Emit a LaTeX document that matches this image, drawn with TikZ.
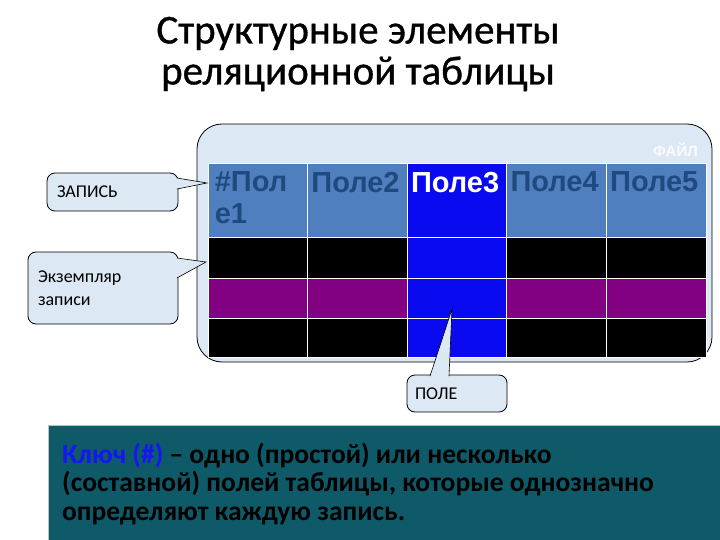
\documentclass[tikz,border=0pt]{standalone}
\usepackage{fontspec}
\setmainfont{Carlito}
\newfontfamily\arialfont{Liberation Sans}
\newfontfamily\titlefont[FakeBold=0.8]{Carlito}
\usetikzlibrary{calc}
\definecolor{callfill}{HTML}{DCE8F4}
\definecolor{hdrblue}{HTML}{4F7FBE}
\definecolor{hdrtext}{HTML}{1F4A80}
\definecolor{colblue}{HTML}{0A0AF0}
\definecolor{rowpurple}{HTML}{820082}
\definecolor{keybg}{HTML}{0E5A68}
\definecolor{keyblue}{HTML}{1515F5}

\begin{document}
\begin{tikzpicture}[x=1pt,y=-1pt,
			callbox/.style={
				rectangle,
				draw=black,
				fill=callfill,
				rounded corners=8pt,
				line width=0.8pt,
				align=left,
				inner sep=0pt,
				font=\fontsize{18}{23}\selectfont,
			},
			pointer/.style={
				fill=callfill,
			},
			pointerline/.style={
				draw=black,
				line width=0.6pt,
				line join=miter,
			},
			cellbox/.style={
				rectangle,
				draw=white,
				line width=0.8pt,
				minimum width=99.6,
				minimum height=#1,
				inner sep=0pt,
			},
			headtext/.style={
				anchor=north west,
				inner sep=0pt,
				text width=95,
				align=left,
				font=\arialfont\bfseries\fontsize{29}{32}\selectfont,
			}]
		\useasboundingbox (0,0) rectangle (720,540);
		\node(title) at (358,54) [align=center,font=\titlefont\fontsize{41}{41}\selectfont] {Структурные элементы\\реляционной таблицы};
		\node(file) at (454.5,243) [draw=black,fill=callfill,rounded corners=25pt,line width=0.8pt,minimum width=515,minimum height=238] {};
		\node(filelabel) at (698,150) [anchor=east,inner sep=0pt,text=white!85!callfill,font=\arialfont\bfseries\fontsize{15}{15}\selectfont] {ФАЙЛ};
		\foreach \c in {1,...,5} {
			\pgfmathsetmacro{\cx}{208+99.6*(\c-1)+49.8}
			\ifnum\c=3 \def\hdfill{colblue}\def\rwfill{colblue}\def\rwfillb{colblue}\else \def\hdfill{hdrblue}\def\rwfill{black}\def\rwfillb{rowpurple}\fi
			\node(head\c) at (\cx,200) [cellbox=74,fill=\hdfill] {};
			\node(rowa\c) at (\cx,257.5) [cellbox=41,fill=\rwfill] {};
			\node(rowb\c) at (\cx,298) [cellbox=40,fill=\rwfillb] {};
			\node(rowc\c) at (\cx,337.5) [cellbox=39,fill=\rwfill] {};
		}
		\node(f1) at ([xshift=7,yshift=-9]head1.north west) [headtext,text=hdrtext] {\#Пол\\е1};
		\node(f2) at ([xshift=4,yshift=-9]head2.north west) [headtext,text=hdrtext] {Поле2};
		\node(f3) at ([xshift=4,yshift=-9]head3.north west) [headtext,text=white] {Поле3};
		\node(f4) at ([xshift=4,yshift=-9]head4.north west) [headtext,text=hdrtext] {Поле4};
		\node(f5) at ([xshift=4,yshift=-9]head5.north west) [headtext,text=hdrtext] {Поле5};
		\node(zapis) at (112.5,192) [callbox,minimum width=131,minimum height=38,text width=111] {ЗАПИСЬ};
		\node(ekz) at (103,288) [callbox,minimum width=150,minimum height=72,text width=130] {Экземпляр\\записи};
		\node(pole) at (457,393.5) [callbox,minimum width=100,minimum height=37,text width=84] {ПОЛЕ};
		\coordinate(zapistip) at (207,183);
		\coordinate(ekztip) at (206,262);
		\coordinate(poletip) at (452,309);
		\fill[pointer] ($(zapis.east)+(-1.5,-14)$) -- (zapistip) -- ($(zapis.east)+(-1.5,-3)$) -- cycle;
		\draw[pointerline] ($(zapis.east)+(-1.5,-14)$) -- (zapistip) -- ($(zapis.east)+(-1.5,-3)$);
		\fill[pointer] ($(ekz.east)+(-1.5,-30)$) -- (ekztip) -- ($(ekz.east)+(-1.5,-10)$) -- cycle;
		\draw[pointerline] ($(ekz.east)+(-1.5,-30)$) -- (ekztip) -- ($(ekz.east)+(-1.5,-10)$);
		\fill[pointer] ($(pole.north)+(-27,1.5)$) -- (poletip) -- ($(pole.north)+(-8,1.5)$) -- cycle;
		\draw[pointerline] ($(pole.north)+(-27,1.5)$) -- (poletip) -- ($(pole.north)+(-8,1.5)$);
		\node(key) at (48,425) [anchor=north west,draw=gray!50,fill=keybg,minimum width=690,minimum height=120,inner sep=0pt] {};
		\node(keytext) at (62,484) [anchor=west,align=left,inner sep=0pt,font=\bfseries\fontsize{27.5}{28.5}\selectfont] {{\color{keyblue}Ключ (\#)} – одно (простой) или несколько\\(составной) полей таблицы, которые однозначно\\определяют каждую запись.};
	\end{tikzpicture}
\end{document}
